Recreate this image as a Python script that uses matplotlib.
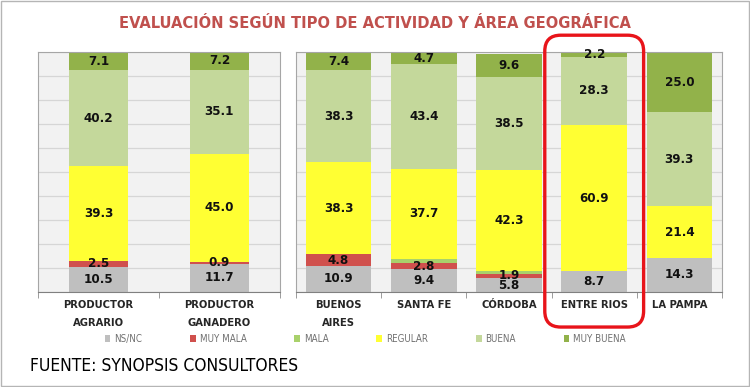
import matplotlib
matplotlib.use("Agg")
import matplotlib.pyplot as plt
import numpy as np
from matplotlib.patches import Patch, FancyBboxPatch, Rectangle

# data
act_labels = ["PRODUCTOR\nAGRARIO", "PRODUCTOR\nGANADERO"]
geo_labels = ["BUENOS\nAIRES", "SANTA FE", "CÓRDOBA", "ENTRE RIOS", "LA PAMPA"]
series = ["NS/NC", "MUY MALA", "MALA", "REGULAR", "BUENA", "MUY BUENA"]

act_ns = [10.5, 11.7]
act_muy_mala = [2.5, 0.9]
act_mala = [0.0, 0.0]
act_regular = [39.3, 45.0]
act_buena = [40.2, 35.1]
act_muy_buena = [7.1, 7.2]

geo_ns = [10.9, 9.4, 5.8, 8.7, 14.3]
geo_muy_mala = [4.8, 2.8, 1.9, 0.0, 0.0]
geo_mala = [0.0, 1.5, 1.0, 0.0, 0.0]
geo_regular = [38.3, 37.7, 42.3, 60.9, 21.4]
geo_buena = [38.3, 43.4, 38.5, 28.3, 39.3]
geo_muy_buena = [7.4, 4.7, 9.6, 2.2, 25.0]

# which segments carry a printed label (mala values are not printed)
show = [True, True, False, True, True, True]

colors = ["#bfbfbf", "#d0504d", "#a9d16b", "#ffff33", "#c4d89b", "#92b24a"]

cond = dict(family="DejaVu Sans", stretch="condensed")

fig = plt.figure(figsize=(7.5, 3.87), dpi=100)
fig.patch.set_facecolor("white")

ax1 = fig.add_axes([38 / 750, 95 / 387, 242 / 750, 240 / 387])
ax2 = fig.add_axes([296 / 750, 95 / 387, 426 / 750, 240 / 387])


def draw_panel(ax, labels, rows, width):
    x = np.arange(len(labels))
    bottom = np.zeros(len(labels))
    for k, vals in enumerate(rows):
        vals = np.array(vals)
        ax.bar(x, vals, width, bottom=bottom, color=colors[k], edgecolor="none", zorder=2)
        if show[k]:
            for xi, b, v in zip(x, bottom, vals):
                if v > 0:
                    ax.text(xi, b + v / 2, "%.1f" % v, ha="center", va="center",
                            fontsize=9.5, fontweight="bold", color="#111111", zorder=3,
                            **cond)
        bottom += vals
    ax.set_xlim(-0.5, len(labels) - 0.5)
    ax.set_ylim(0, 100)
    ax.set_facecolor("#f2f2f2")
    ax.set_yticks(np.arange(0, 101, 10))
    ax.yaxis.grid(True, color="#d6d6d6", lw=0.9, zorder=0)
    ax.set_axisbelow(True)
    ax.tick_params(axis="y", left=False, labelleft=False)
    ax.set_xticks(x)
    ax.set_xticklabels(labels, fontsize=8, fontweight="bold", color="#262626",
                       linespacing=1.9, **cond)
    ax.tick_params(axis="x", length=0, pad=6)
    ax.set_xticks(np.arange(-0.5, len(labels)), minor=True)
    ax.tick_params(axis="x", which="minor", length=4, color="#8c8c8c")
    for s in ["top", "left", "right"]:
        ax.spines[s].set_color("#a6a6a6")
    ax.spines["bottom"].set_color("#808080")


draw_panel(ax1, act_labels,
           [act_ns, act_muy_mala, act_mala, act_regular, act_buena, act_muy_buena], 0.49)
draw_panel(ax2, geo_labels,
           [geo_ns, geo_muy_mala, geo_mala, geo_regular, geo_buena, geo_muy_buena], 0.77)

fig.text(0.5, 1 - 24 / 387, "EVALUACIÓN SEGÚN TIPO DE ACTIVIDAD Y ÁREA GEOGRÁFICA",
         ha="center", va="center", fontsize=11.8, fontweight="bold", color="#c0504d",
         **cond)

handles = [Patch(facecolor=c, edgecolor="none") for c in colors]
leg = fig.legend(handles, series, loc="center", bbox_to_anchor=(0.487, 1 - 339 / 387),
                 ncol=6, frameon=False, fontsize=7, handlelength=0.6, handleheight=0.7,
                 handletextpad=0.4, columnspacing=4.9)
for t in leg.get_texts():
    t.set_color("#707070")
    t.set_family("DejaVu Sans")
    t.set_stretch("condensed")

fig.text(30 / 750, 1 - 366 / 387, "FUENTE: SYNOPSIS CONSULTORES", ha="left", va="center",
         fontsize=12.5, color="black", **cond)

# red highlight around ENTRE RIOS
p0 = ax2.transData.transform((3 - 0.58, -14.6))
p1 = ax2.transData.transform((3 + 0.58, 107))
box = FancyBboxPatch(p0, p1[0] - p0[0], p1[1] - p0[1],
                     boxstyle="round,pad=0,rounding_size=16", transform=None,
                     edgecolor="#e8141a", facecolor="none", lw=2.4, zorder=10)
fig.add_artist(box)

# thin frame around the whole picture
fig.add_artist(Rectangle((0.001, 0.002), 0.997, 0.995, transform=fig.transFigure,
                         fill=False, edgecolor="#b5b5b5", lw=1.0))

fig.savefig("out.png", dpi=100)
